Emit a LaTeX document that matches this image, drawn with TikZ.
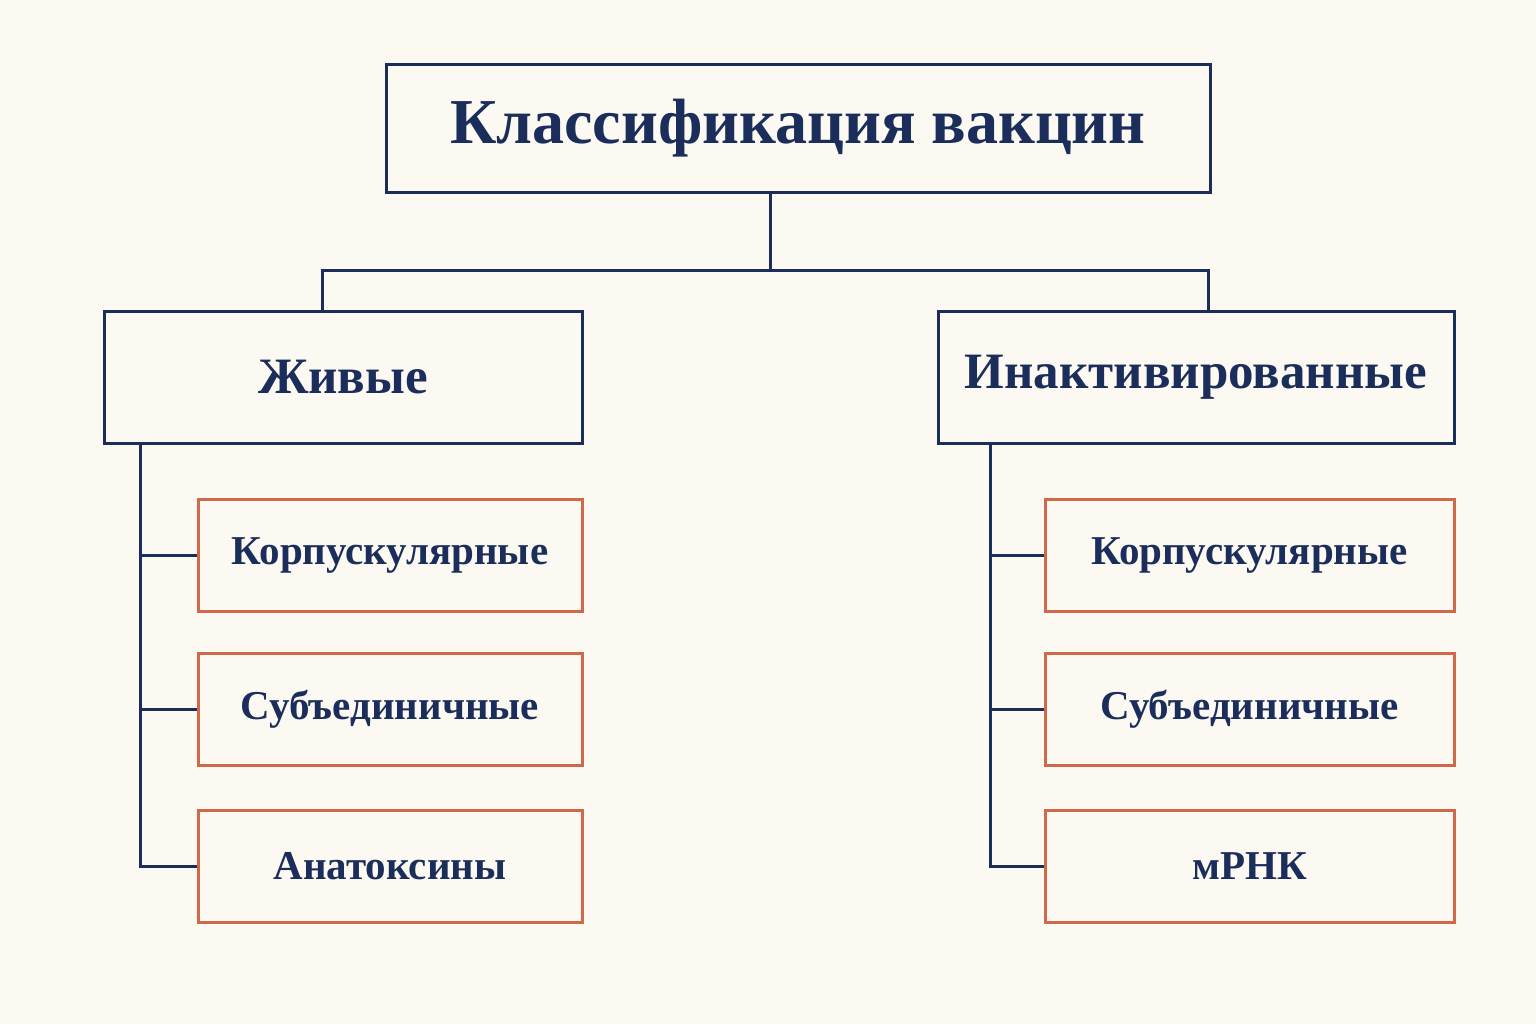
\documentclass[tikz,border=0pt]{standalone}
\usepackage{fontspec}
\setmainfont{Liberation Serif}
\usetikzlibrary{positioning}
\definecolor{navy}{HTML}{1B2D5A}
\definecolor{rust}{HTML}{D0694A}
\definecolor{paper}{HTML}{FCF9F3}
\tikzset{
  topbox/.style={draw=navy,line width=1.5pt,text=navy,minimum width=412pt,minimum height=64pt,font=\fontsize{32}{36}\selectfont\bfseries},
  midbox/.style={draw=navy,line width=1.5pt,text=navy,minimum height=66pt,font=\fontsize{25.5}{29}\selectfont\bfseries},
  leafbox/.style={draw=rust,line width=1.5pt,text=navy,minimum height=56pt,font=\fontsize{20.5}{24}\selectfont\bfseries},
  link/.style={draw=navy,line width=1.5pt}
}
\begin{document}
\begin{tikzpicture}[x=0.5pt,y=-0.5pt,line join=miter]
\fill[paper] (0,0) rectangle (1536,1024);
\useasboundingbox (0,0) rectangle (1536,1024);
% top level
\node[topbox] (root) at (798,128) {Классификация вакцин};
% second level
\node[midbox,minimum width=239pt] (live) at (343,377) {Живые};
\node[midbox,minimum width=258pt] (inact) at (1196,377) {Инактивированные};
% leaves, left
\node[leafbox,minimum width=192pt] (l1) at (390,555) {Корпускулярные};
\node[leafbox,minimum width=192pt] (l2) at (390,709) {Субъединичные};
\node[leafbox,minimum width=192pt] (l3) at (390,866) {Анатоксины};
% leaves, right
\node[leafbox,minimum width=204.5pt] (r1) at (1249.5,555) {Корпускулярные};
\node[leafbox,minimum width=204.5pt] (r2) at (1249.5,709) {Субъединичные};
\node[leafbox,minimum width=204.5pt] (r3) at (1249.5,866) {мРНК};
% connectors
\coordinate (fork) at (770,270);
\draw[link] (root.south -| fork) -- (fork);
\draw[link] (live.north -| 322,0) |- (fork) -| (inact.north -| 1208,0);
\draw[link] (live.south -| 140,0) |- (l3.west);
\draw[link] (l1.west) -- (l1.west -| 140,0);
\draw[link] (l2.west) -- (l2.west -| 140,0);
\draw[link] (inact.south -| 990,0) |- (r3.west);
\draw[link] (r1.west) -- (r1.west -| 990,0);
\draw[link] (r2.west) -- (r2.west -| 990,0);
\end{tikzpicture}
\end{document}
